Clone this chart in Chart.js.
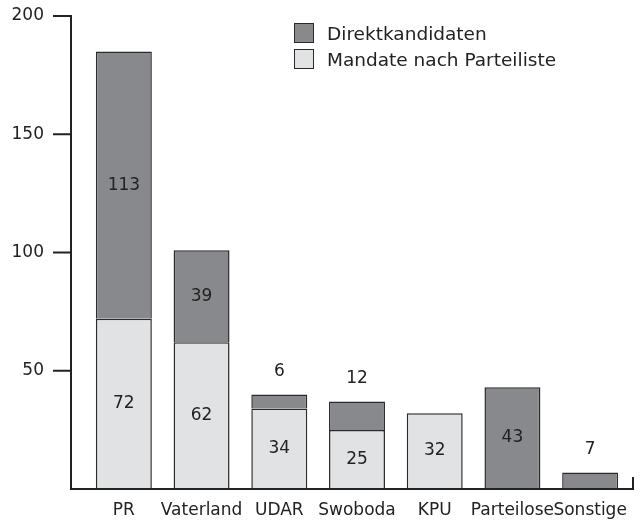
<!DOCTYPE html>
<html>
<head>
<meta charset="utf-8">
<script src="https://cdn.jsdelivr.net/npm/chart.js@4"></script>
<style>
    html, body { margin: 0; padding: 0; background: #fff; }
    .wrap { position: relative; width: 640px; height: 524px; }
    .legend { position: absolute; left: 294px; top: 22px; font: 18.5px "DejaVu Sans", Verdana, sans-serif; color: #222; }
    .legend div { display: flex; align-items: center; height: 22px; margin-bottom: 4px; }
    .legend span.box { box-sizing: border-box; width: 20px; height: 20px; border: 1.5px solid #2a2a2a; margin-right: 13px; }
</style>
</head>
<body>
<div class="wrap">
    <canvas id="chart" width="640" height="524"></canvas>
    <div class="legend" id="legend"></div>
</div>
<script>
const parties = ['PR', 'Vaterland', 'UDAR', 'Swoboda', 'KPU', 'Parteilose', 'Sonstige'];
const listSeats = [72, 62, 34, 25, 32, null, null];
const directSeats = [113, 39, 6, 12, null, 43, 7];
const yTicks = [50, 100, 150, 200];

const darkFill = '#88898c';
const lightFill = '#e1e2e4';
const ink = '#222';
const font = '"DejaVu Sans", Verdana, sans-serif';

// axis lines + tick marks, drawn from the scales
const axisLines = {
    id: 'axisLines',
    afterDraw(chart) {
        const ctx = chart.ctx;
        const y = chart.scales.y;
        const area = chart.chartArea;
        const axisX = 71;
        ctx.save();
        ctx.strokeStyle = ink;
        ctx.lineWidth = 2;
        ctx.beginPath();
        ctx.moveTo(axisX, y.getPixelForValue(200) - 1);
        ctx.lineTo(axisX, area.bottom);
        ctx.lineTo(633, area.bottom);
        ctx.lineTo(633, area.bottom - 12);
        yTicks.forEach(v => {
            const py = y.getPixelForValue(v);
            ctx.moveTo(53, py);
            ctx.lineTo(axisX, py);
        });
        ctx.stroke();
        ctx.restore();
    }
};

// value labels: inside the segment, or above it when it is too short
const valueLabels = {
    id: 'valueLabels',
    afterDatasetsDraw(chart) {
        const ctx = chart.ctx;
        ctx.save();
        ctx.fillStyle = ink;
        ctx.font = '17px ' + font;
        ctx.textAlign = 'center';
        ctx.textBaseline = 'middle';
        chart.data.datasets.forEach((ds, di) => {
            chart.getDatasetMeta(di).data.forEach((bar, i) => {
                const v = ds.data[i];
                if (v == null) return;
                const h = Math.abs(bar.base - bar.y);
                const ty = h < 40 ? bar.y - 23 : (bar.y + bar.base) / 2;
                ctx.fillText(String(v), bar.x, ty);
            });
        });
        ctx.restore();
    }
};

const chart = new Chart(document.getElementById('chart'), {
    type: 'bar',
    data: {
        labels: parties,
        datasets: [
            {
                label: 'Mandate nach Parteiliste',
                data: listSeats,
                backgroundColor: lightFill,
                borderColor: '#2a2a2a',
                borderWidth: 1.5
            },
            {
                label: 'Direktkandidaten',
                data: directSeats,
                backgroundColor: darkFill,
                borderColor: '#2a2a2a',
                borderWidth: 1.5
            }
        ]
    },
    options: {
        responsive: false,
        animation: false,
        layout: { padding: { top: 16, right: 11, bottom: 4, left: 0 } },
        datasets: { bar: { categoryPercentage: 1, barPercentage: 0.72 } },
        plugins: {
            legend: { display: false },
            tooltip: { enabled: false }
        },
        scales: {
            x: {
                stacked: true,
                offset: true,
                grid: { display: false, drawTicks: false },
                border: { display: false },
                afterFit(scale) { scale.height = 31; },
                ticks: { color: ink, font: { family: font, size: 17 }, padding: 11, maxRotation: 0, autoSkip: false }
            },
            y: {
                stacked: true,
                min: 0,
                max: 200,
                // transparent ticks only reserve room; the visible ones come from axisLines
                grid: { display: true, drawOnChartArea: false, drawTicks: true, tickLength: 41, color: 'rgba(0,0,0,0)' },
                border: { display: false },
                afterFit(scale) { scale.width = 85; },
                ticks: {
                    stepSize: 50,
                    color: ink,
                    font: { family: font, size: 17 },
                    padding: 0,
                    callback: v => (v === 0 ? '' : v)
                }
            }
        }
    },
    plugins: [axisLines, valueLabels]
});

// legend, top series first
const legendEl = document.getElementById('legend');
chart.data.datasets.slice().reverse().forEach(ds => {
    const row = document.createElement('div');
    row.innerHTML = `<span class="box" style="background:${ds.backgroundColor}"></span><span>${ds.label}</span>`;
    legendEl.appendChild(row);
});
</script>
</body>
</html>
